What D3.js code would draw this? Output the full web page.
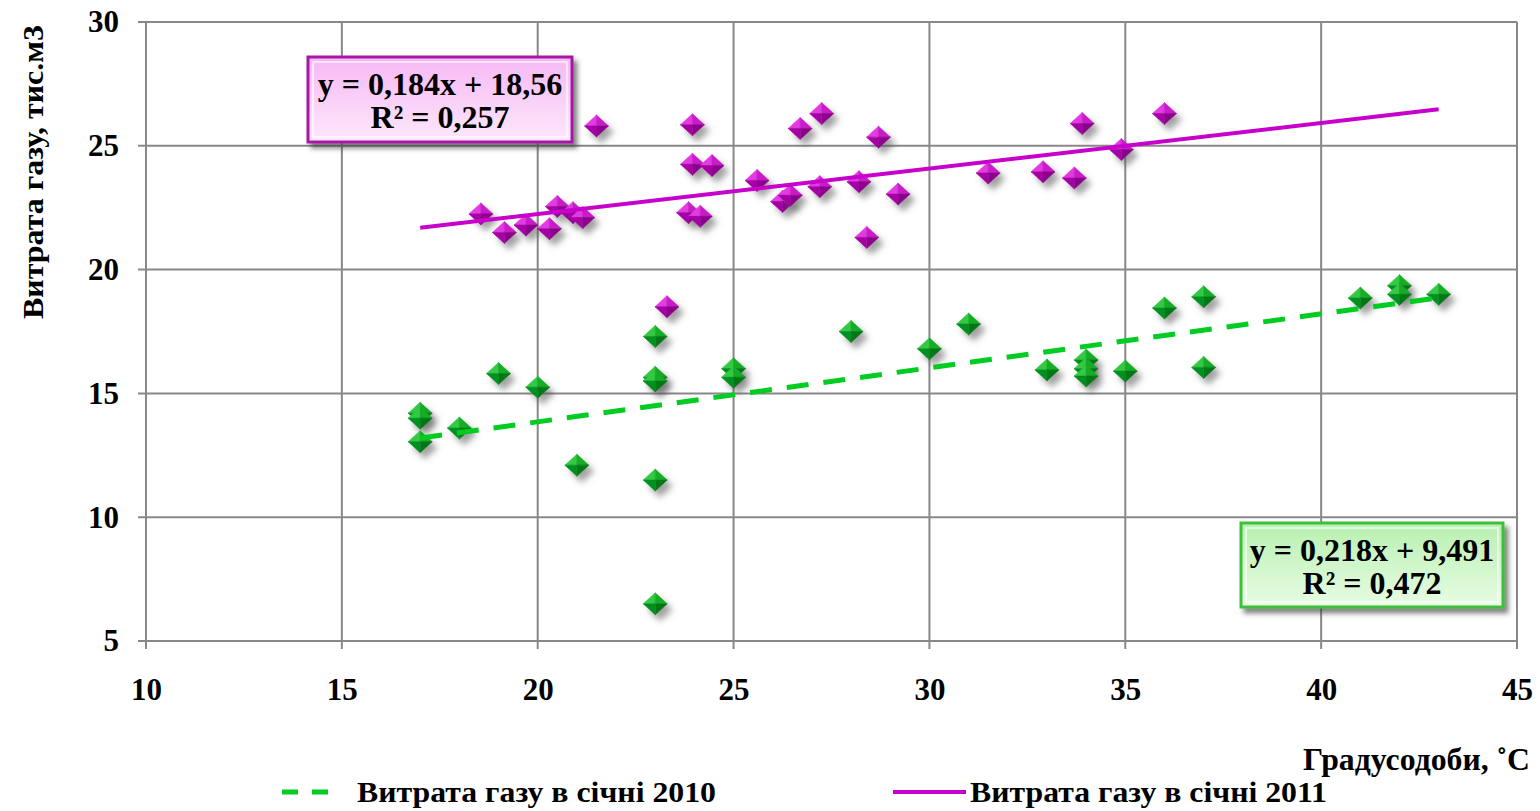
<!DOCTYPE html>
<html>
<head>
<meta charset="utf-8">
<script src="https://cdn.jsdelivr.net/npm/d3@7"></script>
<style>
  html, body { margin: 0; padding: 0; background: #fff; }
  svg text { font-family: "Liberation Serif", "Times New Roman", serif; font-weight: bold; fill: #000; }
</style>
</head>
<body>
<svg id="chart" width="1540" height="811"></svg>
<script>
// Gas consumption vs. degree-days, January 2010 and January 2011
const x2010 = [17, 17, 17, 18, 19, 20, 21, 23, 23, 23, 23, 23, 25, 25, 28, 30, 31, 33, 34, 34, 34, 35, 36, 37, 37, 41, 42, 42, 43];
const y2010 = [14.2, 14.0, 13.05, 13.6, 15.8, 15.25, 12.1, 17.3, 15.65, 15.5, 11.5, 6.5, 16.0, 15.65, 17.5, 16.8, 17.8, 15.95, 16.35, 16.0, 15.7, 15.9, 18.45, 18.9, 16.05, 18.85, 19.35, 19.0, 19.0];

const x2011 = [18.55, 19.15, 19.7, 20.3, 20.5, 20.9, 21.15, 21.5, 23.95, 23.95, 24.45, 23.85, 24.15, 23.3,
               25.6, 26.25, 26.45, 26.7, 27.25, 27.2, 28.2, 28.7, 29.2, 28.4, 31.5, 32.9, 33.7, 33.9, 34.9, 36.0];
const y2011 = [22.25, 21.5, 21.8, 21.65, 22.55, 22.3, 22.1, 25.8, 25.85, 24.25, 24.2, 22.3, 22.15, 18.5,
               23.6, 22.75, 23.0, 25.7, 26.3, 23.35, 23.55, 25.35, 23.05, 21.3, 23.9, 23.95, 23.7, 25.9, 24.85, 26.3];

// Linear trend coefficients (slope, intercept) and R² as printed on the chart
const trend2010 = [0.218, 9.491];
const trend2011 = [0.184, 18.56];
const r2Labels = ["R² = 0,472", "R² = 0,257"];
const eqLabels = ["y = 0,218x + 9,491", "y = 0,184x + 18,56"];

const xTicks = [10, 15, 20, 25, 30, 35, 40, 45];
const yTicks = [5, 10, 15, 20, 25, 30];
const seriesNames = ["Витрата газу в січні 2010", "Витрата газу в січні 2011"];
const xTitle = "Градусодоби, ˚С";
const yTitle = "Витрата газу, тис.м3";

const svg = d3.select("#chart");
const plot = { left: 146, right: 1517, top: 22, bottom: 641 };

const x = d3.scaleLinear().domain([10, 45]).range([plot.left, plot.right]);
const y = d3.scaleLinear().domain([5, 30]).range([plot.bottom, plot.top]);

const defs = svg.append("defs");
const shadow = defs.append("filter").attr("id", "mshadow")
  .attr("x", "-60%").attr("y", "-60%").attr("width", "250%").attr("height", "250%");
shadow.append("feDropShadow").attr("dx", 5).attr("dy", 6).attr("stdDeviation", 3)
  .attr("flood-color", "#555").attr("flood-opacity", 0.55);

const boxShadow = defs.append("filter").attr("id", "bshadow")
  .attr("x", "-10%").attr("y", "-20%").attr("width", "130%").attr("height", "160%");
boxShadow.append("feDropShadow").attr("dx", 4).attr("dy", 5).attr("stdDeviation", 2.5)
  .attr("flood-color", "#333").attr("flood-opacity", 0.6);

function grad(id, c1, c2) {
  const g = defs.append("linearGradient").attr("id", id)
    .attr("x1", 0).attr("y1", 0).attr("x2", 0).attr("y2", 1);
  g.append("stop").attr("offset", "0%").attr("stop-color", c1);
  g.append("stop").attr("offset", "100%").attr("stop-color", c2);
}
grad("pinkFill", "#f6b8f4", "#fde8fc");
grad("greenFill", "#b8f0b0", "#e8fce4");

// grid
const grid = svg.append("g");
grid.selectAll("line.gx").data(xTicks).join("line")
  .attr("x1", d => x(d)).attr("x2", d => x(d))
  .attr("y1", plot.top).attr("y2", plot.bottom + 8)
  .attr("stroke", "#888").attr("stroke-width", 2);
grid.selectAll("line.gy").data(yTicks).join("line")
  .attr("x1", plot.left - 8).attr("x2", plot.right)
  .attr("y1", d => y(d)).attr("y2", d => y(d))
  .attr("stroke", "#888").attr("stroke-width", 2);

// tick labels through d3 axes (axis lines hidden; the grid draws them)
const xAxis = svg.append("g").attr("transform", `translate(0,${plot.bottom})`)
  .call(d3.axisBottom(x).tickValues(xTicks).tickSize(0).tickPadding(37).tickFormat(d3.format("d")));
xAxis.select(".domain").remove();

const yAxis = svg.append("g").attr("transform", `translate(${plot.left},0)`)
  .call(d3.axisLeft(y).tickValues(yTicks).tickSize(0).tickPadding(27).tickFormat(d3.format("d")));
yAxis.select(".domain").remove();

svg.selectAll("g.tick text")
  .style("font-family", "'Liberation Serif', serif").style("font-weight", "bold")
  .style("font-size", "31px").attr("fill", "#000");

// axis titles
svg.append("text").attr("transform", "translate(43,172) rotate(-90)")
  .attr("text-anchor", "middle").style("font-size", "29px")
  .attr("textLength", 294).attr("lengthAdjust", "spacingAndGlyphs").text(yTitle);
svg.append("text").attr("x", 1530).attr("y", 770)
  .attr("text-anchor", "end").style("font-size", "31px")
  .attr("textLength", 227).attr("lengthAdjust", "spacingAndGlyphs").text(xTitle);

// trend lines span the full range of observed degree-days
const xExtent = d3.extent(x2010.concat(x2011));
function trendLine(coef) {
  const [a, b] = coef;
  return xExtent.map(v => [v, a * v + b]);
}
const lineGen = d3.line().x(d => x(d[0])).y(d => y(d[1]));

// 3D-looking diamond markers
function drawMarkers(xs, ys, shades) {
  const g = svg.append("g");
  const pts = xs.map((d, i) => [d, ys[i]]);
  const w = 12, h = 11;
  const m = g.selectAll("g").data(pts).join("g")
    .attr("transform", d => `translate(${x(d[0])},${y(d[1])})`)
    .attr("filter", "url(#mshadow)");
  // four facets: top-left, top-right, bottom-right, bottom-left
  const facets = [
    [[0, 0], [0, -h], [-w, 0]],
    [[0, 0], [w, 0], [0, -h]],
    [[0, 0], [0, h], [w, 0]],
    [[0, 0], [-w, 0], [0, h]]
  ];
  facets.forEach((f, i) => {
    m.append("path").attr("d", "M" + f.map(p => p.join(",")).join("L") + "Z")
      .attr("fill", shades[i]).attr("stroke", shades[i]).attr("stroke-width", 0.6);
  });
}

drawMarkers(x2011, y2011, ["#e23ae2", "#c81cc8", "#8c008c", "#a400a4"]);
drawMarkers(x2010, y2010, ["#36c844", "#14ac26", "#007818", "#009020"]);

svg.append("path").datum(trendLine(trend2011))
  .attr("d", lineGen).attr("fill", "none").attr("stroke", "#c800cc").attr("stroke-width", 4);
svg.append("path").datum(trendLine(trend2010))
  .attr("d", lineGen).attr("fill", "none").attr("stroke", "#00cc22")
  .attr("stroke-width", 5).attr("stroke-dasharray", "22,15");

// equation label boxes
function eqBox(bx, by, bw, bh, fill, border, lines) {
  const g = svg.append("g");
  g.append("rect").attr("x", bx).attr("y", by).attr("width", bw).attr("height", bh)
    .attr("fill", fill).attr("stroke", border).attr("stroke-width", 3)
    .attr("filter", "url(#bshadow)");
  g.append("rect").attr("x", bx + 5).attr("y", by + 5).attr("width", bw - 10).attr("height", bh - 10)
    .attr("fill", "none").attr("stroke", "#fff").attr("stroke-opacity", 0.6).attr("stroke-width", 2);
  g.selectAll("text").data(lines).join("text")
    .attr("x", bx + bw / 2).attr("y", (d, i) => by + 38 + i * 33)
    .attr("text-anchor", "middle").style("font-size", "32px").text(d => d);
}
eqBox(308, 57, 264, 85, "url(#pinkFill)", "#a818a8", [eqLabels[1], r2Labels[1]]);
eqBox(1241, 523, 262, 84, "url(#greenFill)", "#3cbf3c", [eqLabels[0], r2Labels[0]]);

// legend
const leg = svg.append("g");
leg.append("line").attr("x1", 282).attr("x2", 336).attr("y1", 792).attr("y2", 792)
  .attr("stroke", "#00cc22").attr("stroke-width", 5).attr("stroke-dasharray", "16,14");
leg.append("text").attr("x", 357).attr("y", 802).style("font-size", "30px")
  .attr("textLength", 359).attr("lengthAdjust", "spacingAndGlyphs").text(seriesNames[0]);
leg.append("line").attr("x1", 893).attr("x2", 966).attr("y1", 792).attr("y2", 792)
  .attr("stroke", "#c800cc").attr("stroke-width", 4);
leg.append("text").attr("x", 970).attr("y", 802).style("font-size", "30px")
  .attr("textLength", 357).attr("lengthAdjust", "spacingAndGlyphs").text(seriesNames[1]);
</script>
</body>
</html>
